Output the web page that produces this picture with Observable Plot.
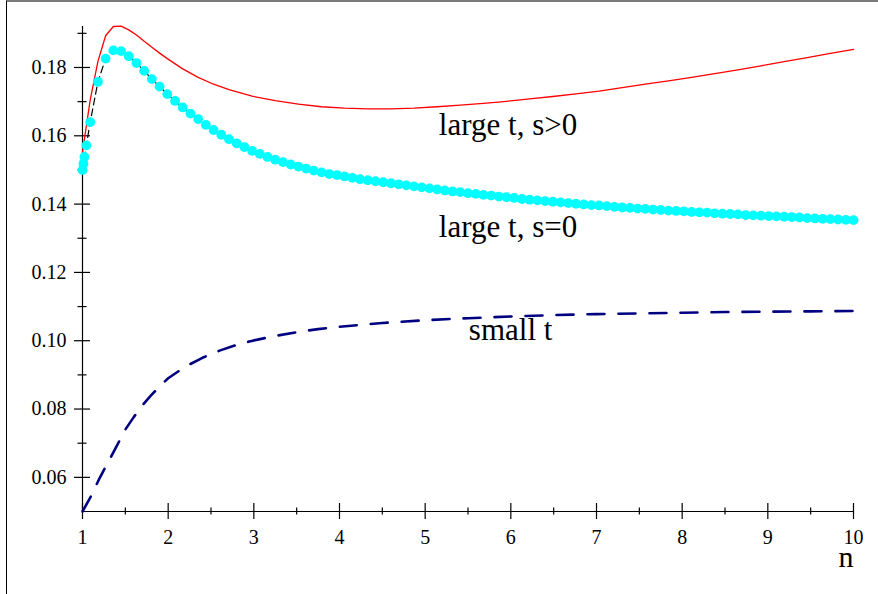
<!DOCTYPE html>
<html>
<head>
<meta charset="utf-8">
<script src="https://cdn.jsdelivr.net/npm/d3@7"></script>
<script src="https://cdn.jsdelivr.net/npm/@observablehq/plot@0.6"></script>
<style>
  body { margin: 0; background: #fff; }
  #wrap { position: relative; width: 878px; height: 594px; overflow: hidden; background: #fff; }
  #frame { position: absolute; left: 6px; top: 0; width: 872px; height: 594px; box-sizing: border-box;
           border-top: 2px solid #7a7a7a; border-left: 1px solid #000; pointer-events: none; }
</style>
</head>
<body>
<div id="wrap"><div id="frame"></div></div>
<script>
// ---- data ----
const nS0 = [1.00,1.01125,1.0225,1.045,1.09,1.18,1.27,1.36,1.45,1.54,1.63,1.72,1.81,1.90,1.99,2.08,2.17,2.26,2.35,2.44,2.53,2.62,2.71,2.80,2.89,2.98,3.07,3.16,3.25,3.34,3.43,3.52,3.61,3.70,3.79,3.88,3.97,4.06,4.15,4.24,4.33,4.42,4.51,4.60,4.69,4.78,4.87,4.96,5.05,5.14,5.23,5.32,5.41,5.50,5.59,5.68,5.77,5.86,5.95,6.04,6.13,6.22,6.31,6.40,6.49,6.58,6.67,6.76,6.85,6.94,7.03,7.12,7.21,7.30,7.39,7.48,7.57,7.66,7.75,7.84,7.93,8.02,8.11,8.20,8.29,8.38,8.47,8.56,8.65,8.74,8.83,8.92,9.01,9.10,9.19,9.28,9.37,9.46,9.55,9.64,9.73,9.82,9.91,10.00];
const valS0 = [0.1500,0.1518,0.1538,0.1572,0.1640,0.1758,0.1826,0.1850,0.1848,0.1833,0.1813,0.1790,0.1766,0.1744,0.1722,0.1702,0.1683,0.1665,0.1649,0.1632,0.1617,0.1603,0.1590,0.1578,0.1567,0.1556,0.1547,0.1538,0.1530,0.1523,0.1516,0.1510,0.1504,0.1498,0.1493,0.1488,0.1485,0.1481,0.1477,0.1473,0.1470,0.1467,0.1464,0.1461,0.1458,0.1455,0.1452,0.1449,0.1446,0.1443,0.1440,0.1437,0.1435,0.1432,0.1430,0.1427,0.1425,0.1422,0.1420,0.1418,0.1415,0.1413,0.1411,0.1409,0.1407,0.1405,0.1403,0.1401,0.1399,0.1397,0.1396,0.1394,0.1392,0.1390,0.1389,0.1387,0.1386,0.1384,0.1383,0.1381,0.1380,0.1379,0.1377,0.1376,0.1375,0.1373,0.1372,0.1371,0.1370,0.1368,0.1367,0.1366,0.1365,0.1364,0.1363,0.1362,0.1361,0.1359,0.1358,0.1357,0.1356,0.1355,0.1354,0.1353];

const nSpos = [1.00,1.09,1.18,1.27,1.36,1.45,1.54,1.63,1.72,1.81,1.90,1.99,2.17,2.35,2.53,2.71,2.98,3.25,3.52,3.79,4.06,4.33,4.60,4.87,5.14,5.41,5.68,5.95,6.22,6.49,6.76,7.03,7.30,7.57,7.84,8.11,8.38,8.65,8.92,9.19,9.46,9.73,10.00];
const valSpos = [0.1552,0.1705,0.1818,0.1893,0.1920,0.1921,0.1910,0.1895,0.1877,0.1859,0.1842,0.1826,0.1796,0.1771,0.1751,0.1735,0.1716,0.1703,0.1693,0.1685,0.1681,0.1679,0.1679,0.1681,0.1685,0.1690,0.1695,0.1701,0.1708,0.1715,0.1723,0.1731,0.1741,0.1751,0.1761,0.1771,0.1782,0.1793,0.1805,0.1817,0.1829,0.1841,0.1853];

const nSmall = [1.0,1.1,1.2,1.3,1.4,1.5,1.6,1.7,1.8,1.9,2.0,2.2,2.4,2.6,2.8,3.0,3.25,3.5,3.75,4.0,4.5,5.0,5.5,6.0,6.5,7.0,7.5,8.0,8.5,9.0,9.5,10.0];
const valSmall = [0.0500,0.0545,0.0598,0.0645,0.0692,0.0740,0.0777,0.0811,0.0840,0.0866,0.0890,0.0924,0.0950,0.0971,0.0988,0.1001,0.1014,0.1025,0.1034,0.1041,0.1052,0.1060,0.1066,0.1071,0.1075,0.1078,0.1080,0.1082,0.1084,0.1085,0.1086,0.1087];

const xMajor = [1,2,3,4,5,6,7,8,9,10];
const xMinor = [1.5,2.5,3.5,4.5,5.5,6.5,7.5,8.5,9.5];
const yMajor = [0.06,0.08,0.10,0.12,0.14,0.16,0.18];
const yMinor = [0.07,0.09,0.11,0.13,0.15,0.17,0.19];
const seriesLabels = ["large t, s>0", "large t, s=0", "small t"];
const axisName = "n";

// ---- tables built from the arrays ----
const s0 = nS0.map((n, i) => ({n, v: valS0[i]}));
const spos = nSpos.map((n, i) => ({n, v: valSpos[i]}));
const small = nSmall.map((n, i) => ({n, v: valSmall[i]}));

const W = 878, H = 594, mL = 82, mR = 25, mT = 26, mB = 83;
const fw = W - mL - mR, fh = H - mT - mB;
const serif = "'Liberation Serif', 'Times New Roman', Times, serif";

const chart = Plot.plot({
  width: W, height: H,
  marginLeft: mL, marginRight: mR, marginTop: mT, marginBottom: mB,
  style: {fontFamily: serif, fontSize: "20px", color: "black", background: "transparent"},
  x: {domain: [1, 10], label: null},
  y: {domain: [0.05, 0.192], label: null},
  marks: [
    Plot.ruleY([0.05], {stroke: "black", strokeWidth: 1.2}),
    Plot.ruleX([1], {stroke: "black", strokeWidth: 1.2}),
    Plot.tickX(xMajor, {x: d => d, insetTop: fh - 16, dy: 8, stroke: "black", strokeWidth: 1.2}),
    Plot.tickX(xMinor, {x: d => d, insetTop: fh - 7, dy: 3.5, stroke: "black", strokeWidth: 1.2}),
    Plot.tickY(yMajor, {y: d => d, insetRight: fw - 16, dx: -8, stroke: "black", strokeWidth: 1.2}),
    Plot.tickY(yMinor, {y: d => d, insetRight: fw - 9, dx: -4.5, stroke: "black", strokeWidth: 1.2}),
    Plot.axisX({ticks: xMajor, tickSize: 0, tickPadding: 18, tickFormat: d => String(d), fontSize: 20, label: null}),
    Plot.axisY({ticks: yMajor, tickSize: 0, tickPadding: 16, tickFormat: d3.format(".2f"), fontSize: 20, label: null}),
    Plot.line(spos, {x: "n", y: "v", stroke: "#ff0000", strokeWidth: 1.3}),
    Plot.line(s0, {x: "n", y: "v", stroke: "black", strokeWidth: 1.2, strokeDasharray: "7,4"}),
    Plot.dot(s0, {x: "n", y: "v", r: 4.9, fill: "#00ffff", stroke: "none"}),
    Plot.line(small, {x: "n", y: "v", stroke: "#000080", strokeWidth: 2.6, strokeDasharray: "17,14"}),
    Plot.text([seriesLabels[0]], {x: 5.16, y: 0.1603, text: d => d, textAnchor: "start", lineAnchor: "bottom", fontSize: 31, fill: "black"}),
    Plot.text([seriesLabels[1]], {x: 5.16, y: 0.1305, text: d => d, textAnchor: "start", lineAnchor: "bottom", fontSize: 31, fill: "black"}),
    Plot.text([seriesLabels[2]], {x: 5.51, y: 0.1003, text: d => d, textAnchor: "start", lineAnchor: "bottom", fontSize: 31, fill: "black"}),
    Plot.text([axisName], {x: 10, y: 0.05, dy: 55, text: d => d, textAnchor: "end", lineAnchor: "bottom", fontSize: 30, fill: "black"})
  ]
});
chart.style.position = "absolute";
chart.style.left = "0px";
chart.style.top = "0px";
document.getElementById("wrap").insertBefore(chart, document.getElementById("frame"));
</script>
</body>
</html>
